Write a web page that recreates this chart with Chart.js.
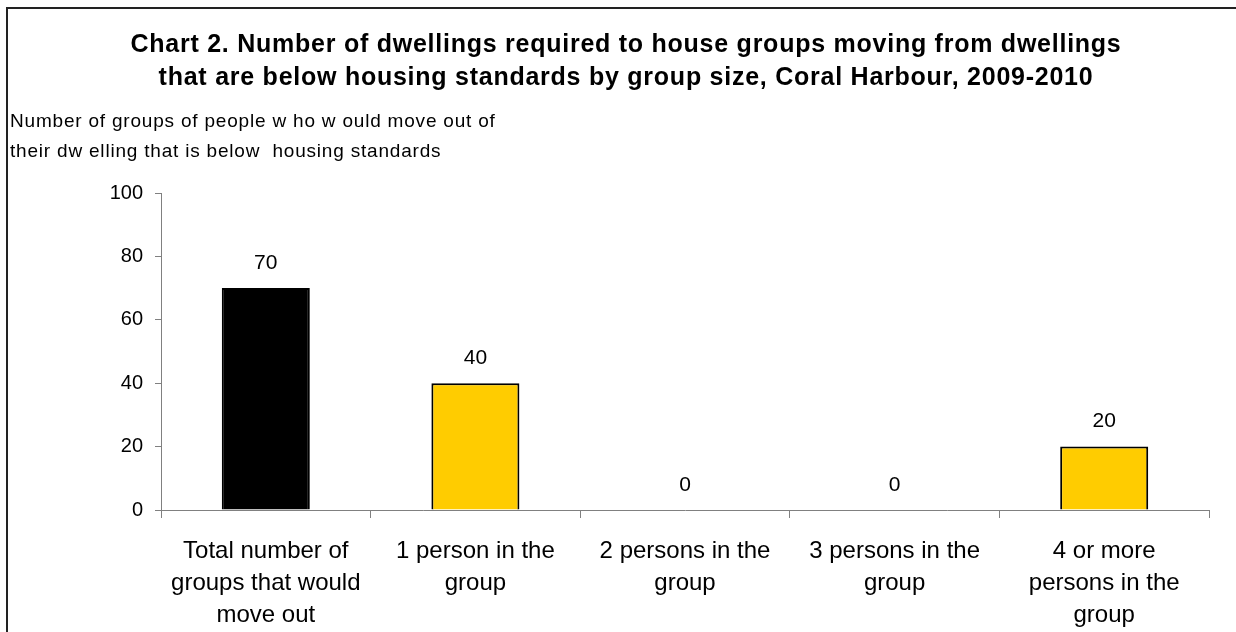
<!DOCTYPE html>
<html>
<head>
<meta charset="utf-8">
<script src="https://cdn.jsdelivr.net/npm/chart.js@4.4.1/dist/chart.umd.min.js"></script>
<style>
  html, body { margin: 0; padding: 0; background: #ffffff; overflow: hidden; }
  #wrap { position: relative; width: 1236px; height: 632px; }
</style>
</head>
<body>
<div id="wrap"><canvas id="c" width="1236" height="632"></canvas></div>
<script>
// ---- Data ----
const titleLines = [
  'Chart 2. Number of dwellings required to house groups moving from dwellings',
  'that are below housing standards by group size, Coral Harbour, 2009-2010'
];
const yTitleLines = [
  'Number of groups of people w ho w ould move out of',
  'their dw elling that is below  housing standards'
];
const categories = [
  ['Total number of', 'groups that would', 'move out'],
  ['1 person in the', 'group'],
  ['2 persons in the', 'group'],
  ['3 persons in the', 'group'],
  ['4 or more', 'persons in the', 'group']
];
const values = [70, 40, 0, 0, 20];
const yTicks = [0, 20, 40, 60, 80, 100];

const FONT = "'Liberation Sans', Arial, sans-serif";

const decorPlugin = {
  id: 'decor',
  beforeDraw(chart) {
    const ctx = chart.ctx;
    ctx.save();
    ctx.fillStyle = '#ffffff';
    ctx.fillRect(0, 0, chart.width, chart.height);
    // frame (left and top edges)
    ctx.strokeStyle = '#222222';
    ctx.lineWidth = 2;
    ctx.beginPath();
    ctx.moveTo(7, chart.height);
    ctx.lineTo(7, 8);
    ctx.lineTo(chart.width, 8);
    ctx.stroke();
    // title
    ctx.fillStyle = '#000000';
    ctx.font = 'bold 25px ' + FONT;
    ctx.letterSpacing = '0.75px';
    ctx.textAlign = 'center';
    ctx.textBaseline = 'alphabetic';
    ctx.fillText(titleLines[0], 626, 52);
    ctx.fillText(titleLines[1], 626, 85);
    // y-axis title
    ctx.font = '19px ' + FONT;
    ctx.letterSpacing = '0.8px';
    ctx.textAlign = 'left';
    ctx.fillText(yTitleLines[0], 10, 127);
    ctx.fillText(yTitleLines[1], 10, 157);
    ctx.letterSpacing = '0px';
    ctx.restore();
  },
  afterDatasetsDraw(chart) {
    const ctx = chart.ctx;
    const meta = chart.getDatasetMeta(0);
    ctx.save();
    ctx.fillStyle = '#000000';
    ctx.font = '21px ' + FONT;
    ctx.textAlign = 'center';
    ctx.textBaseline = 'middle';
    meta.data.forEach((bar, i) => {
      ctx.fillText(String(chart.data.datasets[0].data[i]), bar.x, bar.y - 25);
    });
    ctx.restore();
  }
};

new Chart(document.getElementById('c'), {
  type: 'bar',
  data: {
    labels: categories,
    datasets: [{
      data: values,
      backgroundColor: ['#000000', '#FFCC00', '#FFCC00', '#FFCC00', '#FFCC00'],
      borderColor: '#000000',
      borderWidth: (ctx) => (ctx.raw === 0 ? 0 : 2),
      borderSkipped: 'start',
      categoryPercentage: 1.0,
      barPercentage: 0.42
    }]
  },
  options: {
    responsive: false,
    animation: false,
    devicePixelRatio: 1,
    layout: { padding: { top: 193, right: 27, left: 0, bottom: 0 } },
    plugins: {
      legend: { display: false },
      title: { display: false },
      tooltip: { enabled: false }
    },
    scales: {
      x: {
        grid: {
          offset: true,
          drawOnChartArea: false,
          drawTicks: true,
          tickLength: 8,
          color: '#808080',
          lineWidth: 1
        },
        border: { color: '#808080', width: 1 },
        ticks: {
          color: '#000000',
          font: { family: FONT, size: 24, lineHeight: 1.333 },
          padding: 17,
          autoSkip: false,
          maxRotation: 0,
          minRotation: 0
        },
        afterFit(scale) { scale.height = 122; }
      },
      y: {
        min: 0,
        max: 100,
        afterBuildTicks(scale) { scale.ticks = yTicks.map(v => ({ value: v })); },
        grid: {
          drawOnChartArea: false,
          drawTicks: true,
          tickLength: 6,
          color: '#808080',
          lineWidth: 1
        },
        border: { color: '#808080', width: 1 },
        ticks: {
          color: '#000000',
          font: { family: FONT, size: 20 },
          padding: 12
        },
        afterFit(scale) { scale.width = 161; }
      }
    }
  },
  plugins: [decorPlugin]
});
</script>
</body>
</html>
